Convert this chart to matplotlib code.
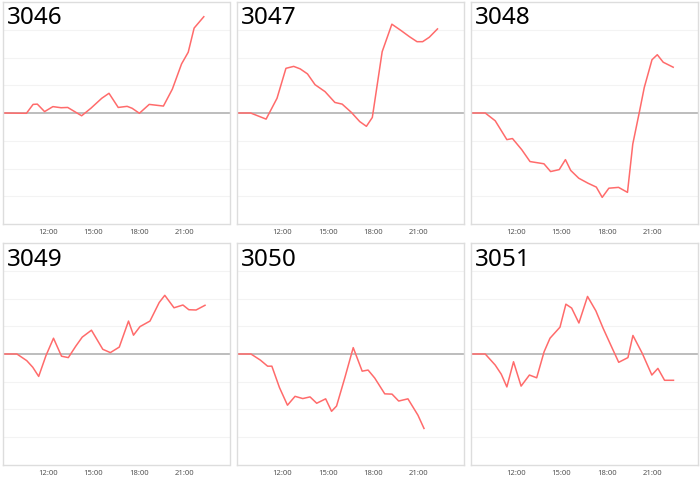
import matplotlib
matplotlib.use("Agg")
import matplotlib.pyplot as plt

# hours since midnight, values in grid units (one gridline = 1)
names = ["3046", "3047", "3048", "3049", "3050", "3051"]

t_3046 = [0, 1.57, 2.01, 2.29, 2.77, 3.32, 3.86, 4.3, 5.22, 5.83, 6.55, 7.03, 7.64,
          8.23, 8.56, 9.04, 9.69, 10.63, 11.22, 11.83, 12.27, 12.66, 13.3]
v_3046 = [0, -0.01, 0.31, 0.32, 0.05, 0.23, 0.19, 0.20, -0.10, 0.17, 0.53, 0.71, 0.20,
          0.24, 0.17, -0.01, 0.31, 0.25, 0.86, 1.77, 2.19, 3.06, 3.47]

t_3047 = [0, 0.92, 1.94, 2.66, 3.25, 3.76, 4.19, 4.67, 5.17, 5.83, 6.48, 6.96, 7.57,
          8.12, 8.56, 8.95, 9.6, 10.24, 10.85, 11.4, 11.9, 12.27, 12.71, 13.25]
v_3047 = [0, 0, -0.22, 0.53, 1.61, 1.68, 1.59, 1.41, 1.02, 0.77, 0.38, 0.32, 0.02,
          -0.31, -0.48, -0.16, 2.21, 3.20, 2.97, 2.75, 2.57, 2.57, 2.73, 3.03]

t_3048 = [0, 0.96, 1.62, 2.39, 2.76, 3.37, 3.92, 4.84, 5.28, 5.85, 6.26, 6.61, 7.14,
          7.75, 8.3, 8.69, 9.13, 9.77, 10.36, 10.71, 11.14, 11.47, 11.98, 12.33, 12.72, 13.38]
v_3048 = [0, 0, -0.28, -0.96, -0.92, -1.32, -1.75, -1.83, -2.11, -2.04, -1.68, -2.07, -2.35,
          -2.53, -2.67, -3.04, -2.71, -2.68, -2.86, -1.12, 0.02, 0.92, 1.92, 2.10, 1.83, 1.65]

t_3049 = [0, 0.94, 1.59, 1.99, 2.38, 2.86, 3.36, 3.89, 4.34, 4.83, 5.26, 5.87, 6.62,
          7.12, 7.71, 8.32, 8.65, 9.08, 9.74, 10.35, 10.72, 11.33, 11.92, 12.31, 12.79, 13.38]
v_3049 = [0, 0, -0.24, -0.48, -0.81, -0.06, 0.57, -0.08, -0.13, 0.28, 0.61, 0.86, 0.17,
          0.05, 0.25, 1.19, 0.68, 0.99, 1.19, 1.86, 2.12, 1.67, 1.77, 1.60, 1.59, 1.76]

t_3050 = [0, 0.94, 1.56, 2.04, 2.32, 2.82, 3.35, 3.85, 4.36, 4.84, 5.28, 5.87, 6.26,
          6.59, 7.14, 7.69, 8.28, 8.67, 9.11, 9.77, 10.25, 10.69, 11.3, 11.96, 12.36]
v_3050 = [0, 0, -0.22, -0.44, -0.44, -1.21, -1.85, -1.53, -1.61, -1.55, -1.78, -1.62, -2.07,
          -1.88, -0.85, 0.23, -0.62, -0.58, -0.87, -1.44, -1.45, -1.70, -1.62, -2.21, -2.69]

t_3051 = [0, 0.96, 1.62, 2.02, 2.39, 2.83, 3.33, 3.88, 4.36, 4.85, 5.24, 5.9, 6.29, 6.67,
          7.15, 7.72, 8.27, 8.75, 9.3, 9.78, 10.39, 10.72, 11.34, 11.97, 12.37, 12.81, 13.4]
v_3051 = [0, 0, -0.40, -0.73, -1.19, -0.28, -1.16, -0.76, -0.86, 0.08, 0.57, 0.97, 1.80, 1.66,
          1.12, 2.08, 1.56, 0.93, 0.27, -0.30, -0.13, 0.67, 0.02, -0.76, -0.52, -0.95, -0.95]

times = [t_3046, t_3047, t_3048, t_3049, t_3050, t_3051]
values = [v_3046, v_3047, v_3048, v_3049, v_3050, v_3051]

tick_hours = [12, 15, 18, 21]
tick_labels = ["12:00", "15:00", "18:00", "21:00"]

W, H = 700, 481
fig = plt.figure(figsize=(W / 100, H / 100), dpi=100)

# pixel boxes (left, top, right, bottom)
col_x = [(2.7, 229.5), (236.7, 464), (470.7, 697.7)]
row_y = [(3, 225), (244.3, 465.7)]

for i, name in enumerate(names):
    r, c = divmod(i, 3)
    x0, x1 = col_x[c]
    y0, y1 = row_y[r]
    ax = fig.add_axes([x0 / W, 1 - y1 / H, (x1 - x0) / W, (y1 - y0) / H])
    ax.set_xlim(9, 24)
    ax.set_ylim(-4, 4)
    for g in range(-3, 4):
        if g != 0:
            ax.axhline(g, color="#f3f3f3", lw=0.8, zorder=0)
    ax.axhline(0, color="#bdbdbd", lw=1.4, zorder=1)
    ax.plot([9 + t for t in times[i]], values[i], color="#ff6b6b", lw=1.1, zorder=2)
    ax.set_yticks([])
    ax.set_xticks(tick_hours)
    ax.set_xticklabels(tick_labels, fontsize=5.5, color="#555555", family="Noto Sans")
    ax.tick_params(axis="x", length=0, pad=3)
    for s in ax.spines.values():
        s.set_color("#dddddd")
        s.set_linewidth(1)
    ax.text(0.02, 0.985, name, transform=ax.transAxes, ha="left", va="top",
            fontsize=17.5, family="Noto Sans", color="black")

fig.savefig("out.png", dpi=100, facecolor="white")
